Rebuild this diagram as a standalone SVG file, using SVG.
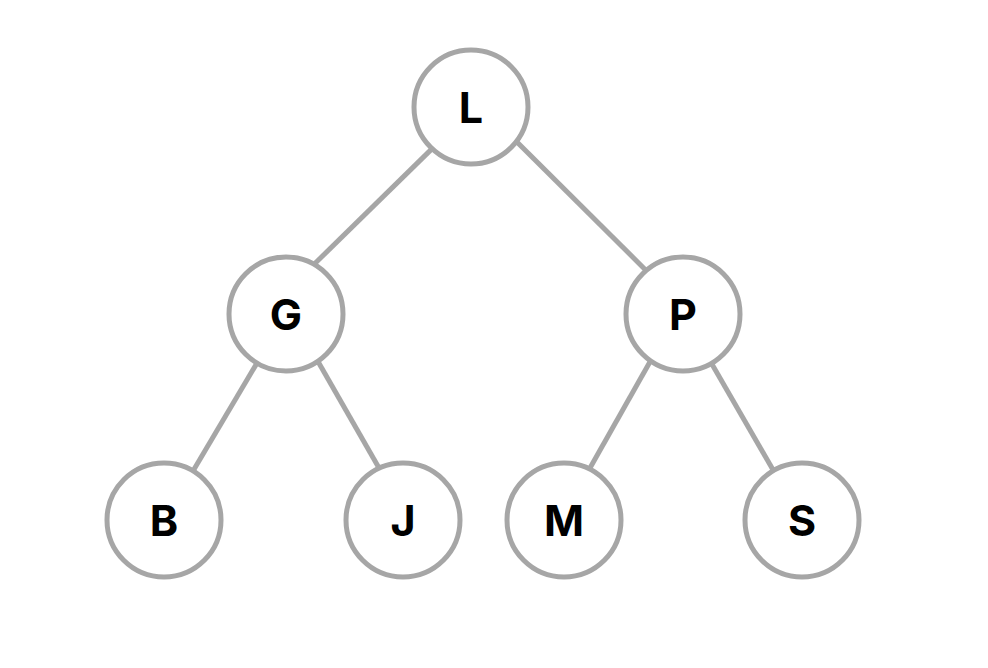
<svg xmlns="http://www.w3.org/2000/svg" width="988" height="668" viewBox="0 0 988 668">
<style>
.edge{stroke:#a6a6a6;stroke-width:5;fill:none}
.node circle{fill:#fff;stroke:#a6a6a6;stroke-width:5}
.node text{font-family:Inter,"Liberation Sans",sans-serif;font-weight:700;font-size:43px;fill:#000;text-anchor:middle}
</style>
<rect width="988" height="668" fill="#fff"/>
<g id="connectors">
<line class="edge" x1="432.1" y1="148.6" x2="314.6" y2="263.8"/>
<line class="edge" x1="516.2" y1="141.2" x2="646.1" y2="270.4"/>
<line class="edge" x1="286" y1="314" x2="164" y2="520"/>
<line class="edge" x1="318" y1="361.5" x2="380.3" y2="470.2"/>
<line class="edge" x1="652" y1="358.2" x2="588.7" y2="470.2"/>
<line class="edge" x1="683" y1="314" x2="802" y2="520"/>
</g>
<g id="node-L" class="node"><circle cx="471" cy="107" r="57"/><text x="471" y="122.5">L</text></g>
<g id="node-G" class="node"><circle cx="286" cy="314" r="57"/><text x="286" y="329.5">G</text></g>
<g id="node-P" class="node"><circle cx="683" cy="314" r="57"/><text x="683" y="329.5">P</text></g>
<g id="node-B" class="node"><circle cx="164" cy="520" r="57"/><text x="164" y="535.5">B</text></g>
<g id="node-J" class="node"><circle cx="403" cy="520" r="57"/><text x="403" y="535.5">J</text></g>
<g id="node-M" class="node"><circle cx="564" cy="520" r="57"/><text x="564" y="535.5">M</text></g>
<g id="node-S" class="node"><circle cx="802" cy="520" r="57"/><text x="802" y="535.5">S</text></g>
</svg>
